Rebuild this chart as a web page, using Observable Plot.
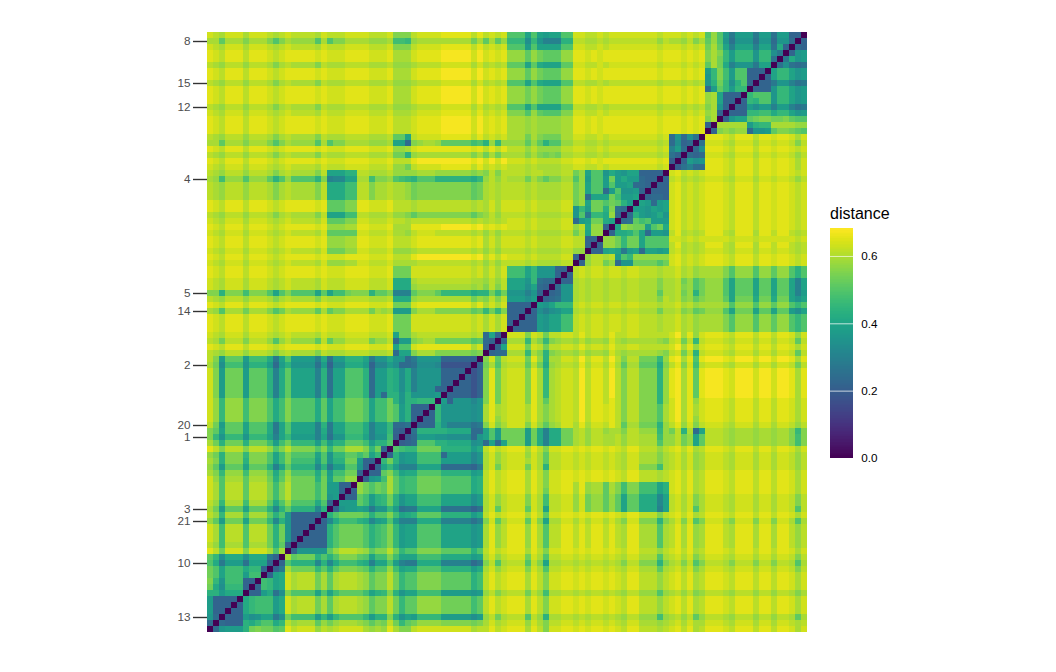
<!DOCTYPE html>
<html><head><meta charset="utf-8">
<style>html,body{margin:0;padding:0;background:#fff;width:1056px;height:672px;overflow:hidden}
#wrap{position:relative;width:1056px;height:672px;font-family:"Liberation Sans",Arial,sans-serif}
#main,#bar{position:absolute;left:0;top:0}
#bar{left:820px;top:200px}
#title{position:absolute;left:830px;top:204px;font-size:16px;color:#000;line-height:19px}
svg{display:block;background:transparent}
</style>
<script src="https://cdn.jsdelivr.net/npm/d3@7"></script>
<script src="https://cdn.jsdelivr.net/npm/@observablehq/plot@0.6"></script>
</head><body><div id="wrap"><div id="main"></div><div id="title">distance</div><div id="bar"></div></div>
<script>
// Distance values are base-36 digits in units of 0.0197; upper-left triangle of a symmetric 100x100 matrix.
const AL0="xwvxxx vxx xwvw xxxxxwx", AR0="xxww wx", A0=AL0+" wwwxx "+AR0;
const AL1="wvuwww uww wvuv wvvvvuw", AR1="wwvv vw", A1=AL1+" vvvww "+AR1;
const AL2="vutvvv tvv vusu vuuuusv", AR2="vvuu uv", A2=AL2+" uuuvv "+AR2;
const AL3="uuquuu suu usps uttttpu", AR3="uutt tu", A3=AL3+" pssuu "+AR3;
const B0="wxxx xyyyyywy wxwx", B1="vwww wxxxxxvx vwvw", B2="uvvv vwwwwwuw uvuv", B3="tuuu uuuuuuru quqt";
const D0="xxw xwx xxxxxxxxwx xxwxwx", D1="wwv vwv wwwwwwwwvw wwvwvw", D2="vvu uvu vvvvvvvvuv vvuvuv", D3="vvu uvu vvvvvvvvtv uutvsu";
const L56="wsjrrr jqq qmfl qkkkkfm dkkpp pmcj jm lhl fiii";
const L61="wtnttt oss splo spppplq koorr rpko or";
const L75="wupvvv qvv vsos vrrrror";
const L82="wuovvv pvv vrmr";
const distanceRows=[
`${A1} sss ${B1} pppkp kjkkpp ${D1} pt pjejj jejj djjbb0`,
`${A3} oon ${B3} nnnhn ifffmm ${D3} qt pidii idii ciic0`,
`${A1} sss ${B1} pppjp kkkkpp ${D1} ru qkfkk kfkk dlb0`,
`${A0} uuu ${B0} tttqt rqqqtt ${D0} su snjnn ninn he0`,
`${A0} uuu ${B0} tttqt rqqqtt ${D0} su rnjnn ninn d0`,
`${A2} ttt ${B2} qqqkq lkkkqq ${D1} qu rlfii iekk 0`,
`${A0} uuu ${B0} tttqt rqqqtt ${D0} jn sojpp bbb0`,
`${A0} uuu ${B0} tttqt rqqqtt ${D0} in sojpp bb0`,
`${A2} ttt ${B2} pppkp lkkkpp ${D2} im rnhmp b0`,
`${A0} uuu ${B0} tttrt rqqqtt ${D0} cj qnjnn 0`,
`${A0} uuu ${B0} tttrt rqqqtt ${D0} tu kbbb0`,
`${A0} uuu ${B0} tttrt rqqqtt ${D0} tu kbb0`,
`${A2} ttt ${B2} pppkp kkkkpp ${D2} su ib0`,
`${A1} uuu ${B1} ssspt qpppss ${D1} tu b0`,
`${A0} vvv ${B0} uuutu ttttuu ${D0} su 0`,
`${A0} vvv ${B0} uuutu ttttuu ${D0} b0`,
`${A0} vvv ${B0} uuutu ttttuu ${D0} 0`,
`${A2} qqk ${B1} uuuru srrruu wwv vwv wwwwwwwwvw cichd0`,
`${A3} kkc stuu tqqqqqop mtnt tttqt qmpptt vvu uvu vvvvvvvvuv chbc0`,
`${A0} ttu wxxx xxxxxxwx vxvx vvvtv ttttvv wwv vwv wwwwwwwwvw fjc0`,
`${A2} rrm tuuu uuuuuusu ruru uuusu srsruu vvu uvu vvvvvvvvuv db0`,
`${A0} vvv xyyy yyyyyyxy wywy wwwvw vvvvww xxw xwx xxxxxxxxwx a0`,
`${A1} ttr ${B1} vvvuv uuuuvv wwv vwv wwwwwwwwvw 0`,
`${AL2} kkkmm ${AR2} ttt tuuu ttttttst svsv vvvuv vuuuvv rtk ppi ljikkbbbb0`,
`utottt ptt tqmp tppppms fggkk uuos st pon mppp mmmmmmln tvtv uuuru sqssuu ptj ppj rjljjcbb0`,
`${AL2} llloo vvsu uv uut rsss ssssssqr uvuv vvvuv uuuuvv rtk ppj pjjkccb0`,
`${AL2} llloo vvsu uv uut rsss ssssssqr uvuv vvvuv uuuuvv rtk ppc jpiijb0`,
`${AL2} llloo vvsu uv uut rsss ssssssqr uvuv vvvuv uuuuvv rtc kkk rojjk0`,
`${AL0} qqqss ${AR0} vvv uvvv vvvvvvuv uwuw wwwvw vvvvww rtk rrp rqmj0`,
`${AL0} qqqss ${AR0} vvv uvvv vvvvvvuv uwuw wwwvw vvvvww inj rrm sdc0`,
`${AL2} kkkoo ${AR2} tts qsss ssssssqs tvtv vvvuv uuuuvv ipe nnl tc0`,
`${AL1} qqqss ${AR1} vvu vvvv vvvvvvuv uvuv wwwvw vvvvww cjk rrl k0`,
`${AL0} tttuu ${AR0} uuu xxxx xyyyyyxy wxwx wwwvw vvvvww tvl ttb 0`,
`${AL1} qqqqq ${AR1} uut vwww vvvvvvuv tvtv vvvuv uuuuvv ruk tt0`,
`${AL0} tttuu ${AR0} vvv wxxx xxxxxxwx uwuw wwwvw vvvvww vvb b0`,
`${AL0} tttuu ${AR0} vvv wxxx xxxxxxwx uwuw wwwvw vvvvww vvb 0`,
`${AL1} rrrtt ${AR1} ttt uvvv vvvvvvuv tvtv vvvuv uuuuvv tt0`,
`${AL0} wwwxx ${AR0} vvv xyyy yyyyyyxy vxvx wwwvw vvvvww b0`,
`${AL1} tttuu ${AR1} uuu uvvv vvvvvvuv tvtv vvvuv uuuuvv 0`,
`${A0} rrr wwww wwwwwwvw uwuw oookn iiibb0`,
`${A0} rrr wwww wwwwwwvw uwuw oookn iiib0`,
`${A1} lll uvvv vvvvvvuu tvtv kkkin dcc0`,
`${A1} lll tuuu uuuuuutu svsv kkkhk cb0`,
`ssmsss oss spkp sppppkq koors ssmq qs fff qsss qnnnnnlm mrnr iiifi b0`,
`${A2} lll tuuu uuuuuurt svsv jjjhj 0`,
`${A0} rrr wxxx xxxxxxvx uwuw bbbb0`,
`utpuuu ruu uspr uttttqu qssuu uuru tu jjj suuu ssssssqr nrns bbb0`,
`${A0} rrr wwww wwwwwwvw uwuw bb0`,
`${A0} rrr wwww wwwwwwvw uwuw b0`,
`${A0} rrr wwww wwwwwwvw uwuw 0`,
`${A1} krr uvvv vvvvvvuv ckb0`,
`vurvvv svv vtpt vttttqv qttvv vvrt tv cjj stuu rrrrrrpq cb0`,
`${A0} kpp wxxx xxxxxxuw b0`,
`${A2} ckk suuu ssssssrs 0`,
`vsjqqq joo olek pjjjjfl djjmm mkei il iic eiii ibbbbbb0`,
`urhooo imm mjcj miiiidj bhhll ljbg gj hcc dhhh g999990`,
`${L56} ibbbb0`,
`${L56} ibbb0`,
`${L56} ibb0`,
`${L56} bb0`,
`wsjrrr jqq qmfl qkkkkfm dkkpp pmcj cm mim iiii j0`,
`${L61} mim mnnn 0`,
`${L61} pjm bbb0`,
`${L61} pjm bb0`,
`${L61} pjm b0`,
`vrjqqq kpp plek pkkkkfm ekkoo olfj jn ccd 0`,
`sqkqqq kpp plek pkkkkfl ekkoo olfj jn ba0`,
`sninnn inn nkfk njjjjfk diinn nkfi io a0`,
`urmrrr mrr rojo rnnnnjo jmmqq qojm mp 0`,
`xvsvvv svv vtps vssssps nrruu usnr b0`,
`trmsss nss spko sppppkp innqq oqkn 0`,
`usmsss mss spko soooojp immrr jbb0`,
`tqjqqq kqq qmfk qmmmmgm ejjpp ib0`,
`usnttt ott tqlp tpppplq joorr b0`,
`wtpuuu quu urmq urrrrmr kqqtt 0`,
`${L75} jjbb0`,
`${L75} jjb0`,
`${L75} ij0`,
`vtnuuu ouu uqlp tpppplp b0`,
`urjqqq kqq qmgm qmmmmgm 0`,
`vtnuuu puu uqmp ibbbbb0`,
`tqjrrr krr rngm ibbbb0`,
`${L82} ibbb0`,
`${L82} ibb0`,
`${L82} ib0`,
`vtouuu puu urmq b0`,
`xvrwww sww wupu 0`,
`qnhlll hll leb0`,
`plejjj dkk kb0`,
`rpkooo lnn b0`,
`rpkooo joo 0`,
`sniooo bb0`,
`rlhnnn b0`,
`mmjlll 0`,
`jbbbb0`,
`jbbb0`,
`jbb0`,
`ic0`,
`c0`,
`0`
];
const tickRows=[1,8,12,24,43,46,55,65,67,79,81,88,97];
const tickLabels=["8","15","12","4","5","14","2","20","1","3","21","10","13"];
const legendTicks=[0,0.2,0.4,0.6];
const colorDomain=[0,0.68];
const unit=0.0197;

const tri=distanceRows.map(s=>s.replace(/\s+/g,""));
const lookup=(t,c)=>{
  const ch=(t+c<=99)?tri[t][c]:tri[99-c][99-t];
  return ch===undefined?NaN:parseInt(ch,36)*unit;
};
const idx=d3.range(100);
const cells=idx.flatMap(t=>idx.map(c=>({t,c,value:lookup(t,c)})));
const labelOf=new Map(tickRows.map((t,i)=>[t,tickLabels[i]]));

const chart=Plot.plot({
  width:1056,height:672,marginLeft:207,marginRight:249,marginTop:32,marginBottom:40,
  style:{background:"transparent",fontFamily:'"Liberation Sans",Arial,sans-serif'},
  x:{domain:idx,padding:0,axis:null,round:false},
  y:{domain:idx,padding:0,round:false,axis:null},
  color:{type:"linear",scheme:"viridis",domain:colorDomain},
  marks:[
    Plot.cell(cells,{x:"c",y:"t",fill:"value",shapeRendering:"crispEdges"}),
    Plot.axisY(tickRows,{anchor:"left",label:null,tickSize:14,tickPadding:3,fontSize:11.7,color:"#4d4d4d",stroke:"#333333",strokeWidth:1.4,tickFormat:t=>labelOf.get(t)})
  ]
});
document.getElementById("main").append(chart);

const ramp=d3.range(0,0.68,0.004);
const rampColor=d3.scaleSequential([0,0.68],d3.interpolateViridis);
const barPlot=Plot.plot({
  width:90,height:270,marginLeft:10,marginRight:57,marginTop:29,marginBottom:12,
  style:{background:"transparent",fontFamily:'"Liberation Sans",Arial,sans-serif'},
  x:{axis:null,domain:[0,1]},
  y:{domain:colorDomain,axis:null},
  marks:[
    Plot.rect(ramp,{x1:0,x2:1,y1:d=>d,y2:d=>d+0.008,fill:d=>rampColor(d),shapeRendering:"crispEdges"}),
    Plot.tickY(legendTicks,{y:d=>d,x1:()=>0,x2:()=>0.2,stroke:"#fff",strokeWidth:0.6,strokeOpacity:0.7}),
    Plot.tickY(legendTicks,{y:d=>d,x1:()=>0.8,x2:()=>1,stroke:"#fff",strokeWidth:0.6,strokeOpacity:0.7}),
    Plot.text(legendTicks,{y:d=>d,frameAnchor:"right",dx:24,text:d=>d.toFixed(1),textAnchor:"end",fontSize:11.7,fill:"#000"})
  ]
});
document.getElementById("bar").append(barPlot);
</script></body></html>
